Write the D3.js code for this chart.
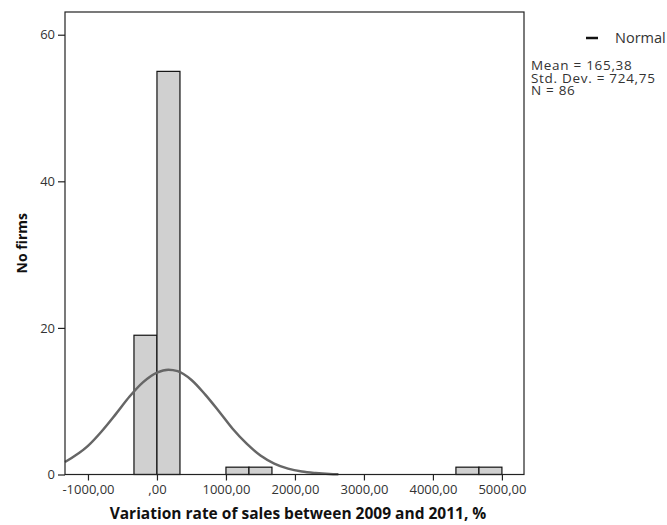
<!DOCTYPE html>
<html>
<head>
<meta charset="utf-8">
<script src="https://cdn.jsdelivr.net/npm/d3@7"></script>
<style>
  body { margin: 0; background: #fff; }
  svg { display: block; font-family: "Open Sans", sans-serif; }
</style>
</head>
<body>
<svg></svg>
<script>
const width = 667;
const height = 525;

// histogram bins (lower edge, upper edge) and counts
const binLo = [-333.33, 0, 1000, 1333.33, 4333.33, 4666.67];
const binHi = [0, 333.33, 1333.33, 1666.67, 4666.67, 5000];
const counts = [19, 55, 1, 1, 1, 1];

// normal curve
const curveX = [-1333, -1000, -800, -600, -400, -200, 0, 165, 300, 500, 700, 900, 1100, 1300, 1500, 1700, 1900, 2100, 2300, 2500, 2630];
const curveY = [1.7, 3.9, 5.9, 8.2, 10.6, 12.6, 13.9, 14.3, 14.1, 12.9, 10.9, 8.6, 6.2, 4.2, 2.6, 1.5, 0.8, 0.4, 0.2, 0.08, 0.04];

const xTicks = [-1000, 0, 1000, 2000, 3000, 4000, 5000];
const xTickLabels = ["-1000,00", ",00", "1000,00", "2000,00", "3000,00", "4000,00", "5000,00"];
const yTicks = [0, 20, 40, 60];

const statLines = ["Mean = 165,38", "Std. Dev. = 724,75", "N = 86"];
const legendLabel = "Normal";
const xTitle = "Variation rate of sales between 2009 and 2011, %";
const yTitle = "No firms";

const plot = { left: 65, right: 524, top: 12, bottom: 474.5 };

const svg = d3.select("svg")
  .attr("width", width)
  .attr("height", height);

const x = d3.scaleLinear()
  .domain([-1333, 5320])
  .range([plot.left, plot.right]);

const y = d3.scaleLinear()
  .domain([0, 63.1])
  .range([plot.bottom, plot.top]);

// bars
svg.append("g")
  .selectAll("rect")
  .data(counts)
  .join("rect")
  .attr("x", (d, i) => x(binLo[i]))
  .attr("width", (d, i) => x(binHi[i]) - x(binLo[i]))
  .attr("y", d => y(d))
  .attr("height", d => y(0) - y(d))
  .attr("fill", "#d0d0d0")
  .attr("stroke", "#111")
  .attr("stroke-width", 1.2);

// normal curve
const line = d3.line()
  .x((d, i) => x(curveX[i]))
  .y(d => y(d))
  .curve(d3.curveMonotoneX);

svg.append("path")
  .datum(curveY)
  .attr("d", line)
  .attr("fill", "none")
  .attr("stroke", "#666")
  .attr("stroke-width", 2.5);

// frame
svg.append("rect")
  .attr("x", plot.left)
  .attr("y", plot.top)
  .attr("width", plot.right - plot.left)
  .attr("height", plot.bottom - plot.top)
  .attr("fill", "none")
  .attr("stroke", "#222")
  .attr("stroke-width", 1.2);

// axes
const xAxis = svg.append("g")
  .attr("transform", `translate(0, ${plot.bottom})`)
  .call(d3.axisBottom(x)
    .tickValues(xTicks)
    .tickFormat((d, i) => xTickLabels[i])
    .tickSize(6)
    .tickSizeOuter(0));

const yAxis = svg.append("g")
  .attr("transform", `translate(${plot.left}, 0)`)
  .call(d3.axisLeft(y)
    .tickValues(yTicks)
    .tickSize(7)
    .tickSizeOuter(0));

[xAxis, yAxis].forEach(a => {
  a.select(".domain").remove();
  a.selectAll("line").attr("stroke", "#222").attr("stroke-width", 1.2);
  a.selectAll("text")
    .attr("fill", "#333")
    .style("font-family", "'Open Sans', sans-serif")
    .style("font-size", "13px");
});

xAxis.selectAll("text").attr("dy", "0.71em").attr("y", 10);
yAxis.selectAll("text").attr("x", -10);

// axis titles
svg.append("text")
  .attr("x", 298)
  .attr("y", 519)
  .attr("text-anchor", "middle")
  .attr("font-weight", "bold")
  .attr("font-size", 15.5)
  .attr("fill", "#111")
  .text(xTitle);

svg.append("text")
  .attr("transform", `translate(27, ${(plot.top + plot.bottom) / 2}) rotate(-90)`)
  .attr("text-anchor", "middle")
  .attr("font-weight", "bold")
  .attr("font-size", 14)
  .attr("fill", "#111")
  .text(yTitle);

// legend
const legend = svg.append("g");

legend.append("line")
  .attr("x1", 586)
  .attr("x2", 598)
  .attr("y1", 38)
  .attr("y2", 38)
  .attr("stroke", "#111")
  .attr("stroke-width", 2.5);

legend.append("text")
  .attr("x", 615)
  .attr("y", 43)
  .attr("font-size", 14.5)
  .attr("fill", "#333")
  .text(legendLabel);

legend.selectAll(".stat")
  .data(statLines)
  .join("text")
  .attr("class", "stat")
  .attr("x", 531)
  .attr("y", (d, i) => 70 + i * 12.5)
  .attr("font-size", 13.5)
  .attr("letter-spacing", 0.7)
  .attr("fill", "#333")
  .text(d => d);
</script>
</body>
</html>
